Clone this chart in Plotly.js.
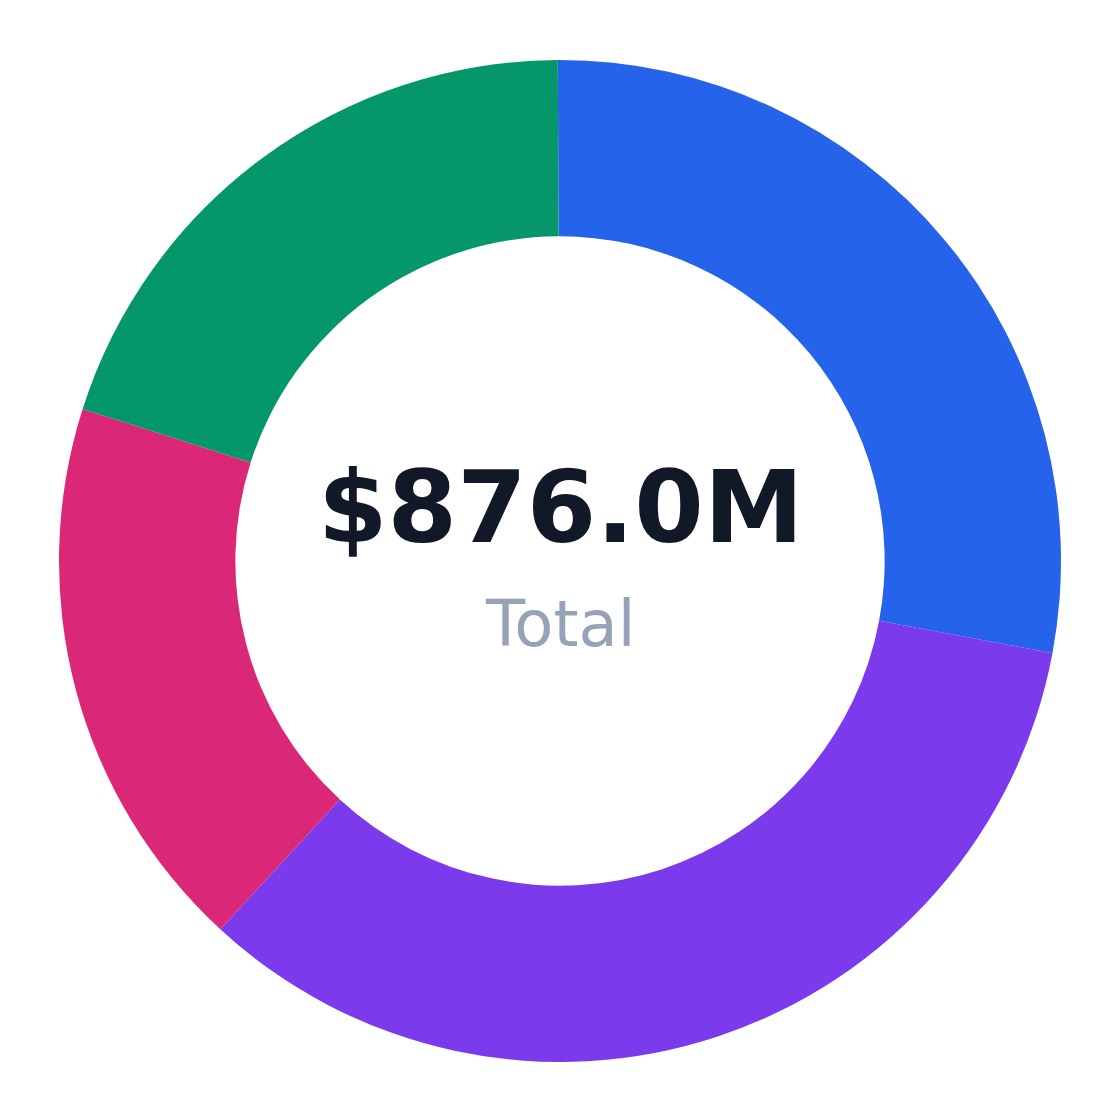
<!DOCTYPE html>
<html>
<head>
<meta charset="utf-8">
<script src="https://cdn.plot.ly/plotly-3.0.1.min.js"></script>
<style>
  html, body { margin: 0; padding: 0; background: #ffffff; }
  #chart { width: 1120px; height: 1120px; }
</style>
</head>
<body>
<div id="chart"></div>
<script>
// segment values in $M, clockwise from 12 o'clock
const segments = ['Segment A', 'Segment B', 'Segment C', 'Segment D'];
const amounts = [245.4, 297.1, 158.1, 175.4];
const colors = ['#2563eb', '#7c3aed', '#db2777', '#059669'];

const totalLabel = 'Total';
const total = amounts.reduce((a, b) => a + b, 0);
const totalText = '$' + total.toFixed(1) + 'M';

const donut = {
    type: 'pie',
    labels: segments,
    values: amounts,
    hole: 0.648,
    sort: false,
    direction: 'clockwise',
    rotation: -0.25,
    textinfo: 'none',
    hoverinfo: 'label+value+percent',
    marker: {
        colors: colors,
        line: { width: 0 }
    }
};

const layout = {
    width: 1120,
    height: 1120,
    margin: { l: 59, r: 59, t: 60, b: 58 },
    showlegend: false,
    paper_bgcolor: '#ffffff',
    font: { family: 'DejaVu Sans, sans-serif' },
    annotations: [
        {
            text: totalText,
            x: 0.5, y: 0.553,
            xref: 'paper', yref: 'paper',
            xanchor: 'center', yanchor: 'middle',
            showarrow: false,
            font: { size: 100, color: '#111827', weight: 700, family: 'DejaVu Sans, sans-serif' }
        },
        {
            text: totalLabel,
            x: 0.5, y: 0.437,
            xref: 'paper', yref: 'paper',
            xanchor: 'center', yanchor: 'middle',
            showarrow: false,
            font: { size: 64, color: '#94a3b8', family: 'DejaVu Sans, sans-serif' }
        }
    ]
};

Plotly.newPlot('chart', [donut], layout, { displayModeBar: false, staticPlot: true });
</script>
</body>
</html>
